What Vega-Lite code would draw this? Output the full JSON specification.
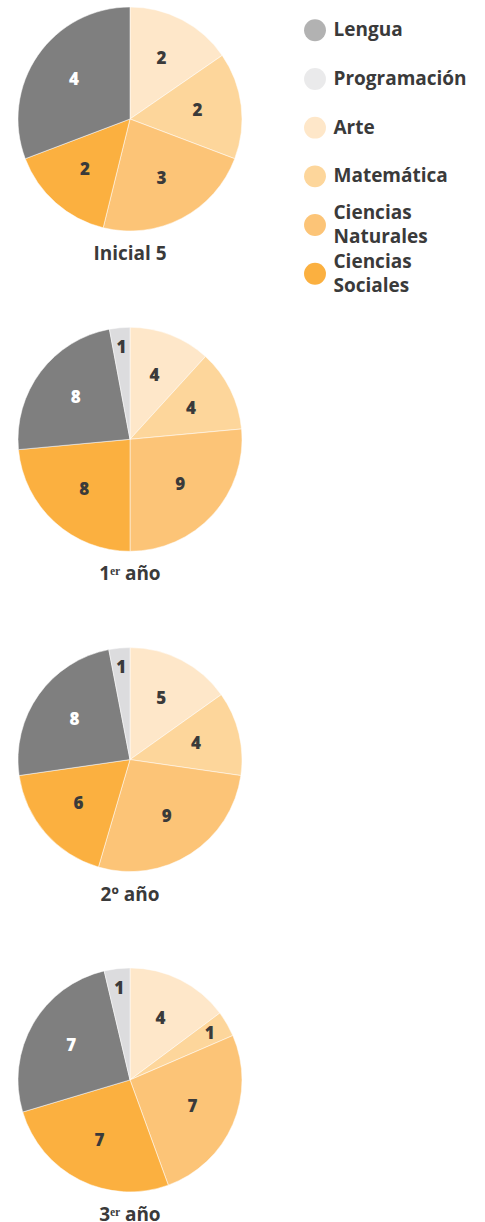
{
  "$schema": "https://vega.github.io/schema/vega-lite/v6.json",
  "padding": {"left": 0, "top": 0, "right": 0, "bottom": 0},
  "background": "white",
  "data": {"values": [
    {"nivel": "Inicial 5", "materia": "Arte", "horas": 2},
    {"nivel": "Inicial 5", "materia": "Matemática", "horas": 2},
    {"nivel": "Inicial 5", "materia": "Ciencias Naturales", "horas": 3},
    {"nivel": "Inicial 5", "materia": "Ciencias Sociales", "horas": 2},
    {"nivel": "Inicial 5", "materia": "Lengua", "horas": 4},
    {"nivel": "1ᵉʳ año", "materia": "Arte", "horas": 4},
    {"nivel": "1ᵉʳ año", "materia": "Matemática", "horas": 4},
    {"nivel": "1ᵉʳ año", "materia": "Ciencias Naturales", "horas": 9},
    {"nivel": "1ᵉʳ año", "materia": "Ciencias Sociales", "horas": 8},
    {"nivel": "1ᵉʳ año", "materia": "Lengua", "horas": 8},
    {"nivel": "1ᵉʳ año", "materia": "Programación", "horas": 1},
    {"nivel": "2º año", "materia": "Arte", "horas": 5},
    {"nivel": "2º año", "materia": "Matemática", "horas": 4},
    {"nivel": "2º año", "materia": "Ciencias Naturales", "horas": 9},
    {"nivel": "2º año", "materia": "Ciencias Sociales", "horas": 6},
    {"nivel": "2º año", "materia": "Lengua", "horas": 8},
    {"nivel": "2º año", "materia": "Programación", "horas": 1},
    {"nivel": "3ᵉʳ año", "materia": "Arte", "horas": 4},
    {"nivel": "3ᵉʳ año", "materia": "Matemática", "horas": 1},
    {"nivel": "3ᵉʳ año", "materia": "Ciencias Naturales", "horas": 7},
    {"nivel": "3ᵉʳ año", "materia": "Ciencias Sociales", "horas": 7},
    {"nivel": "3ᵉʳ año", "materia": "Lengua", "horas": 7},
    {"nivel": "3ᵉʳ año", "materia": "Programación", "horas": 1}
  ]},
  "spacing": 42.5,
  "hconcat": [
    {
      "transform": [
        {"calculate": "indexof(['Arte','Matemática','Ciencias Naturales','Ciencias Sociales','Lengua','Programación'], datum.materia)", "as": "orden"}
      ],
      "columns": 1,
      "spacing": 56.3,
      "facet": {
        "field": "nivel",
        "type": "nominal",
        "sort": ["Inicial 5", "1ᵉʳ año", "2º año", "3ᵉʳ año"],
        "header": {
          "title": null,
          "labelOrient": "bottom",
          "labelFont": "Open Sans",
          "labelFontSize": 19,
          "labelFontWeight": "bold",
          "labelColor": "#3a3a3a",
          "labelPadding": 7
        }
      },
      "spec": {
        "width": 260,
        "height": 238,
        "encoding": {
          "theta": {"field": "horas", "type": "quantitative", "stack": true},
          "order": {"field": "orden", "type": "quantitative"}
        },
        "layer": [
          {
            "mark": {"type": "arc", "outerRadius": 112, "stroke": "white", "strokeWidth": 0.5},
            "encoding": {
              "color": {
                "field": "materia",
                "type": "nominal",
                "scale": {
                  "domain": ["Lengua", "Programación", "Arte", "Matemática", "Ciencias Naturales", "Ciencias Sociales"],
                  "range": ["#7f7f7f", "#dcdcde", "#fee7c9", "#fdd69b", "#fcc477", "#fbb040"]
                },
                "legend": null
              }
            }
          },
          {
            "mark": {"type": "text", "font": "Open Sans", "fontSize": 17, "fontWeight": 800, "radius": {"expr": "datum.horas <= 1 ? 92 : 68"}},
            "encoding": {
              "text": {"field": "horas", "type": "quantitative"},
              "color": {"condition": {"test": "datum.materia === 'Lengua'", "value": "#ffffff"}, "value": "#3a3a3a"}
            }
          }
        ]
      }
    },
    {
      "width": 25,
      "height": 304,
      "transform": [
        {"aggregate": [{"op": "count", "as": "n"}], "groupby": ["materia"]}
      ],
      "encoding": {
        "y": {
          "field": "materia",
          "type": "nominal",
          "sort": ["Lengua", "Programación", "Arte", "Matemática", "Ciencias Naturales", "Ciencias Sociales"],
          "scale": {"type": "point", "padding": 0.62},
          "axis": null
        }
      },
      "layer": [
        {
          "mark": {"type": "circle", "size": 480, "opacity": 1},
          "encoding": {
            "color": {
              "field": "materia",
              "type": "nominal",
              "scale": {
                "domain": ["Lengua", "Programación", "Arte", "Matemática", "Ciencias Naturales", "Ciencias Sociales"],
                "range": ["#7f7f7f", "#dcdcde", "#fee7c9", "#fdd69b", "#fcc477", "#fbb040"]
              },
              "legend": null
            },
            "opacity": {"condition": {"test": "datum.materia === 'Lengua' || datum.materia === 'Programación'", "value": 0.6}, "value": 1}
          }
        },
        {
          "mark": {"type": "text", "align": "left", "baseline": "middle", "dx": 18.5, "dy": {"expr": "indexof(datum.materia, ' ') > 0 ? -12 : 0"}, "font": "Open Sans", "fontSize": 19, "fontWeight": "bold", "color": "#3a3a3a", "lineHeight": 24, "lineBreak": " "},
          "encoding": {
            "text": {"field": "materia", "type": "nominal"}
          }
        }
      ]
    }
  ],
  "config": {
    "view": {"stroke": null}
  }
}
